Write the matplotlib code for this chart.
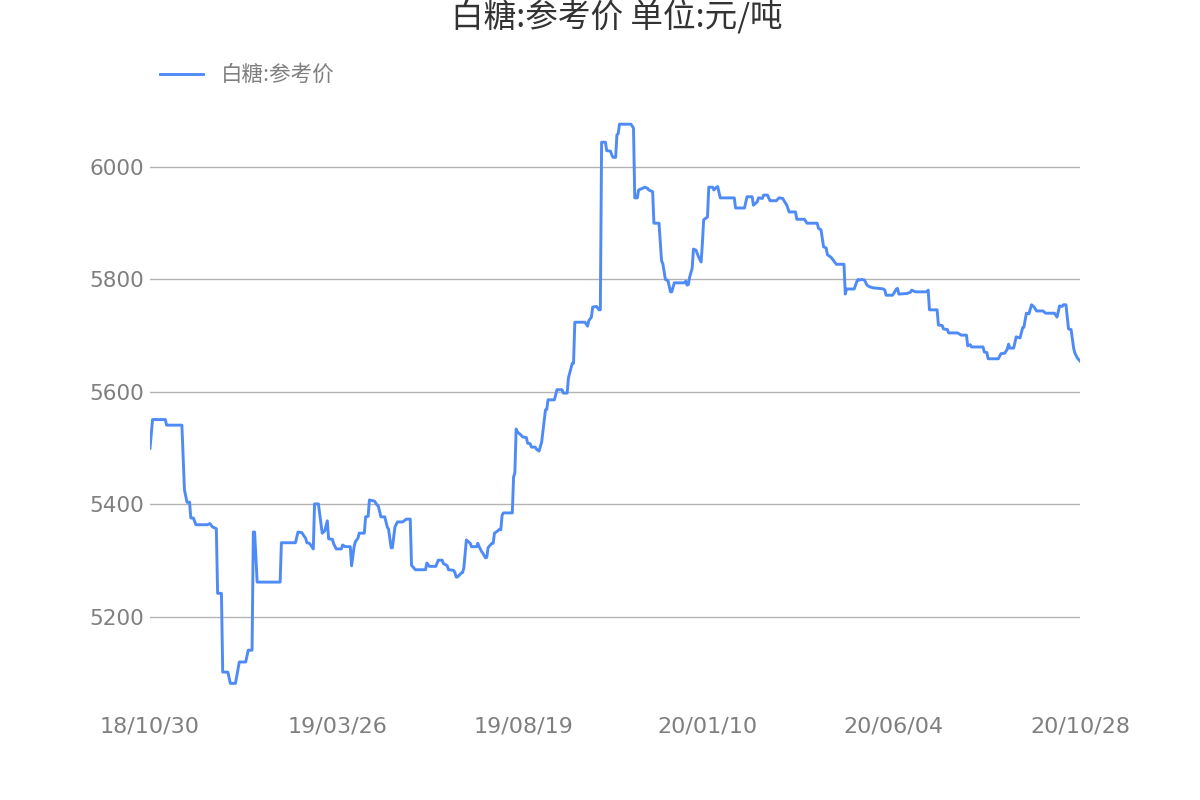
import matplotlib
matplotlib.use("Agg")
import matplotlib.pyplot as plt
import pandas as pd

plt.rcParams['font.family'] = ['DejaVu Sans', 'Noto Sans CJK SC']

# 白糖参考价 (元/吨), 日期以 2018-10-30 起算的天数
start = "2018-10-30"
days = [0, 2, 12, 13, 25, 27, 29, 31, 32, 34,
        36, 45, 47, 49, 52, 53, 56, 57, 61, 63,
        67, 70, 75, 77, 80, 81, 82, 84, 102, 103,
        114, 116, 119, 121, 122, 123, 125, 128, 129, 132,
        135, 137, 139, 140, 143, 144, 146, 150, 151, 153,
        157, 158, 160, 161, 163, 164, 168, 169, 171, 172,
        176, 178, 179, 181, 184, 186, 187, 189, 190, 192,
        194, 198, 201, 204, 205, 208, 216, 217, 219, 224,
        226, 229, 230, 233, 234, 238, 239, 240, 241, 244,
        245, 246, 248, 251, 252, 256, 257, 258, 260, 261,
        263, 264, 265, 266, 268, 269, 270, 272, 274, 275,
        276, 277, 282, 284, 285, 286, 287, 288, 291, 292,
        295, 296, 298, 299, 302, 303, 305, 307, 310, 311,
        312, 317, 319, 323, 324, 327, 328, 331, 332, 333,
        341, 343, 344, 346, 347, 350, 352, 353, 354, 357,
        358, 361, 362, 363, 365, 366, 367, 368, 377, 379,
        380, 382, 383, 386, 388, 390, 391, 394, 395, 399,
        401, 402, 404, 406, 408, 409, 411, 419, 420, 421,
        422, 423, 425, 426, 428, 430, 432, 433, 434, 437,
        438, 441, 442, 444, 445, 447, 458, 459, 466, 468,
        472, 473, 476, 477, 480, 481, 484, 486, 491, 493,
        496, 498, 499, 501, 506, 507, 513, 515, 523, 524,
        526, 528, 530, 531, 534, 535, 536, 538, 544, 545,
        546, 552, 554, 555, 556, 558, 560, 562, 564, 567,
        572, 575, 576, 577, 582, 583, 585, 586, 587, 593,
        596, 597, 600, 609, 610, 611, 617, 618, 621, 622,
        625, 626, 633, 636, 640, 641, 643, 644, 653, 654,
        656, 657, 665, 667, 670, 672, 673, 674, 677, 679,
        682, 684, 685, 687, 689, 691, 693, 695, 700, 702,
        709, 711, 713, 715, 716, 718, 720, 722, 724, 725,
        727, 729]
prices = [5500, 5551, 5551, 5541, 5541, 5426, 5404, 5404, 5376, 5376,
          5364, 5364, 5366, 5360, 5357, 5242, 5242, 5102, 5102, 5082,
          5082, 5120, 5120, 5141, 5141, 5351, 5351, 5262, 5262, 5332,
          5332, 5351, 5350, 5343, 5340, 5332, 5331, 5321, 5401, 5401,
          5349, 5353, 5371, 5339, 5338, 5330, 5321, 5321, 5328, 5325,
          5325, 5291, 5325, 5334, 5340, 5349, 5349, 5378, 5379, 5408,
          5406, 5399, 5397, 5378, 5378, 5360, 5356, 5323, 5323, 5360,
          5369, 5369, 5374, 5374, 5292, 5284, 5284, 5296, 5290, 5290,
          5301, 5301, 5295, 5291, 5284, 5283, 5279, 5271, 5271, 5278,
          5279, 5287, 5337, 5331, 5325, 5325, 5331, 5325, 5316, 5313,
          5305, 5306, 5323, 5326, 5331, 5331, 5349, 5352, 5356, 5355,
          5381, 5385, 5385, 5385, 5449, 5456, 5534, 5529, 5523, 5520,
          5519, 5509, 5508, 5502, 5502, 5498, 5495, 5511, 5568, 5569,
          5586, 5586, 5604, 5604, 5598, 5598, 5625, 5651, 5651, 5724,
          5724, 5717, 5727, 5733, 5751, 5752, 5746, 5746, 6044, 6044,
          6029, 6028, 6021, 6017, 6017, 6057, 6059, 6076, 6076, 6069,
          5945, 5945, 5959, 5962, 5964, 5962, 5959, 5956, 5900, 5900,
          5833, 5828, 5800, 5798, 5778, 5778, 5794, 5794, 5797, 5790,
          5791, 5804, 5820, 5854, 5852, 5840, 5831, 5864, 5906, 5911,
          5964, 5964, 5959, 5964, 5965, 5945, 5945, 5927, 5927, 5947,
          5947, 5932, 5938, 5945, 5944, 5950, 5950, 5940, 5940, 5945,
          5944, 5936, 5933, 5920, 5920, 5907, 5907, 5900, 5900, 5891,
          5888, 5858, 5856, 5844, 5839, 5836, 5833, 5827, 5827, 5774,
          5783, 5783, 5796, 5800, 5799, 5800, 5799, 5790, 5787, 5785,
          5784, 5783, 5781, 5772, 5772, 5775, 5783, 5784, 5774, 5775,
          5777, 5781, 5778, 5778, 5781, 5746, 5746, 5719, 5718, 5712,
          5711, 5705, 5705, 5701, 5701, 5682, 5684, 5680, 5680, 5671,
          5670, 5659, 5659, 5668, 5669, 5676, 5685, 5678, 5678, 5698,
          5696, 5714, 5715, 5740, 5739, 5755, 5751, 5744, 5744, 5740,
          5740, 5733, 5753, 5752, 5755, 5755, 5712, 5711, 5678, 5669,
          5660, 5655]

tick_dates = ["2018-10-30", "2019-03-26", "2019-08-19",
              "2020-01-10", "2020-06-04", "2020-10-28"]
y_ticks = [5200, 5400, 5600, 5800, 6000]

dates = pd.Timestamp(start) + pd.to_timedelta(days, unit="D")
ticks = pd.to_datetime(tick_dates)

fig = plt.figure(figsize=(12, 8), dpi=100)
ax = fig.add_axes([0.125, 0.11625, 0.775, 0.75875])

ax.plot(dates, prices, color="#4f8bf7", linewidth=2.1, label="白糖:参考价")

ax.set_xlim(ticks[0], ticks[-1])
ax.set_ylim(5040, 6119)
ax.set_xticks(ticks)
ax.set_xticklabels([t.strftime("%y/%m/%d") for t in ticks])
ax.set_yticks(y_ticks)
ax.set_yticklabels([str(v) for v in y_ticks])

ax.grid(axis="y", color="#b3b3b3", linewidth=1)
ax.grid(axis="x", visible=False)
for s in ax.spines.values():
    s.set_visible(False)
ax.tick_params(axis="both", length=0, labelsize=15.5, colors="#7f7f7f")
ax.tick_params(axis="x", labelsize=16, pad=7)
ax.tick_params(axis="y", pad=4)

cjk = ['Noto Sans CJK SC', 'DejaVu Sans']
fig.text(0.514, 0.966, "白糖:参考价 单位:元/吨", ha="center", va="baseline",
         fontsize=23.5, color="#333333", family=cjk)

ax.legend(loc="center left", bbox_to_anchor=(0.1333, 0.906),
          bbox_transform=fig.transFigure, frameon=False,
          prop={"family": cjk, "size": 15.5},
          handlelength=2.0, handletextpad=0.85, borderpad=0, borderaxespad=0,
          labelcolor="#7f7f7f")

fig.savefig("out.png", dpi=100)
